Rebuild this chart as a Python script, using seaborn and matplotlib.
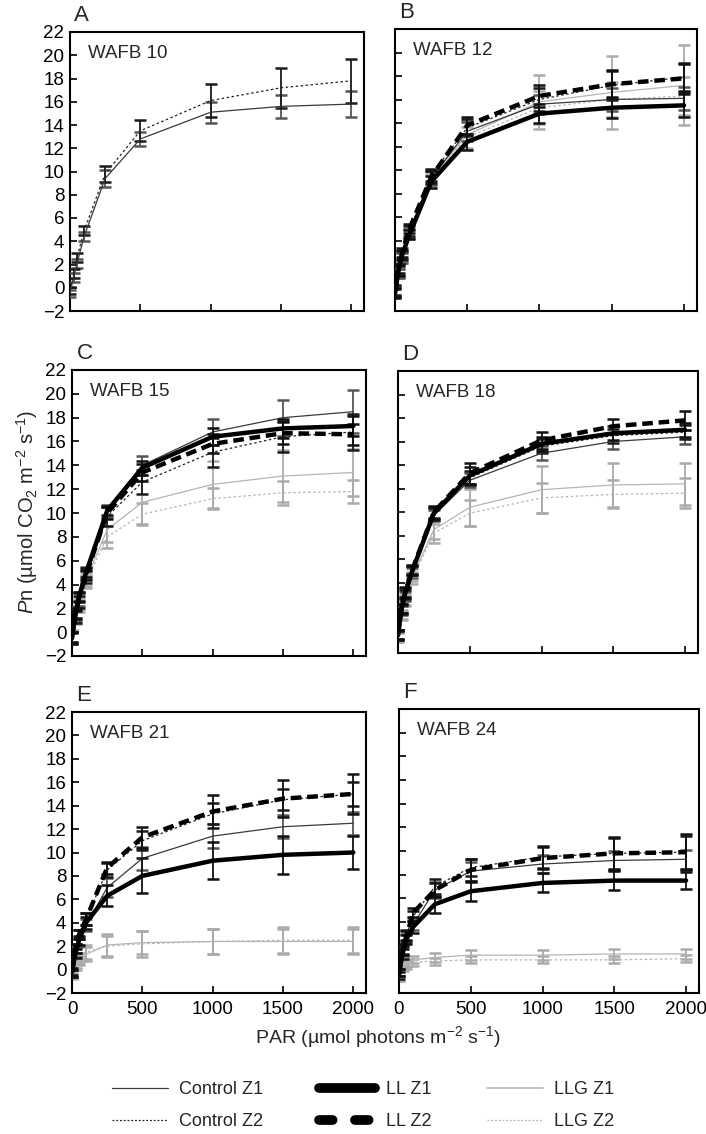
import matplotlib
matplotlib.use("Agg")
import matplotlib.pyplot as plt
from matplotlib.lines import Line2D
import seaborn as sns

# ---------------- data ----------------
PAR = [0, 25, 50, 100, 250, 500, 1000, 1500, 2000]
PANEL_LETTERS = ["A", "B", "C", "D", "E", "F"]
PANEL_TITLES = ["WAFB 10", "WAFB 12", "WAFB 15", "WAFB 18", "WAFB 21", "WAFB 24"]
SERIES = ["Control Z1", "Control Z2", "LL Z1", "LL Z2", "LLG Z1", "LLG Z2"]
X_TICKS = [0, 500, 1000, 1500, 2000]
Y_TICKS = list(range(-2, 23, 2))

# Panel A (WAFB 10)
a_ctrl_z1 = [-0.5, 0.9, 2.1, 4.4, 9.4, 12.8, 15.1, 15.6, 15.8]
a_ctrl_z1_se = [0.3, 0.4, 0.4, 0.4, 0.7, 0.6, 0.9, 1.0, 1.1]
a_ctrl_z2 = [-0.2, 1.2, 2.6, 4.9, 9.8, 13.5, 16.1, 17.2, 17.8]
a_ctrl_z2_se = [0.3, 0.4, 0.4, 0.4, 0.7, 0.9, 1.4, 1.7, 1.9]

# Panel B (WAFB 12)
b_ctrl_z1 = [-0.3, 1.2, 2.5, 4.6, 9.3, 13.3, 15.6, 16.0, 16.1]
b_ctrl_z1_se = [0.4, 0.4, 0.4, 0.4, 0.6, 0.8, 0.8, 1.0, 1.0]
b_ctrl_z2 = [-0.2, 1.4, 2.7, 4.8, 9.6, 13.6, 16.0, 17.2, 17.9]
b_ctrl_z2_se = [0.4, 0.4, 0.4, 0.4, 0.5, 0.7, 1.0, 1.2, 1.2]
b_ll_z1 = [-0.5, 1.5, 2.8, 4.5, 9.0, 12.4, 14.8, 15.3, 15.5]
b_ll_z1_se = [0.4, 0.4, 0.4, 0.4, 0.5, 0.7, 0.8, 0.9, 1.0]
b_ll_z2 = [-0.4, 1.6, 3.0, 5.0, 9.4, 13.8, 16.3, 17.3, 17.8]
b_ll_z2_se = [0.4, 0.4, 0.4, 0.4, 0.5, 0.7, 0.9, 1.2, 1.2]
b_llg_z1 = [-0.4, 1.3, 2.6, 4.6, 9.3, 13.0, 15.8, 16.6, 17.2]
b_llg_z1_se = [0.4, 0.4, 0.4, 0.4, 0.6, 1.2, 2.3, 3.1, 3.4]
b_llg_z2 = [-0.3, 1.2, 2.5, 4.5, 9.1, 12.8, 15.3, 16.0, 16.3]
b_llg_z2_se = [0.4, 0.4, 0.4, 0.4, 0.6, 0.9, 1.4, 1.5, 1.6]

# Panel C (WAFB 15)
c_ctrl_z1 = [-0.5, 1.5, 2.8, 5.0, 10.2, 14.0, 16.8, 18.0, 18.5]
c_ctrl_z1_se = [0.5, 0.6, 0.6, 0.5, 0.5, 0.8, 1.1, 1.5, 1.8]
c_ctrl_z2 = [-0.5, 1.3, 2.5, 4.6, 9.7, 12.6, 15.1, 16.4, 16.8]
c_ctrl_z2_se = [0.5, 0.5, 0.5, 0.5, 0.8, 1.0, 1.2, 1.3, 1.5]
c_ll_z1 = [-0.5, 1.6, 3.0, 5.0, 10.2, 13.8, 16.4, 17.1, 17.3]
c_ll_z1_se = [0.4, 0.4, 0.4, 0.4, 0.4, 0.6, 0.7, 0.8, 0.8]
c_ll_z2 = [-0.4, 1.5, 2.9, 4.8, 10.0, 13.4, 15.8, 16.7, 16.6]
c_ll_z2_se = [0.4, 0.4, 0.4, 0.4, 0.5, 0.7, 0.8, 0.9, 0.9]
c_llg_z1 = [-0.3, 1.3, 2.4, 4.4, 8.6, 10.9, 12.4, 13.1, 13.4]
c_llg_z1_se = [0.5, 0.5, 0.5, 0.5, 1.0, 1.8, 2.0, 2.2, 2.0]
c_llg_z2 = [-0.3, 1.2, 2.2, 4.2, 8.0, 9.9, 11.2, 11.7, 11.8]
c_llg_z2_se = [0.5, 0.5, 0.5, 0.5, 0.9, 0.9, 0.9, 1.0, 1.0]

# Panel D (WAFB 18)
d_ctrl_z1 = [-0.5, 1.6, 2.8, 4.8, 9.7, 12.7, 15.0, 16.0, 16.4]
d_ctrl_z1_se = [0.4, 0.4, 0.4, 0.4, 0.5, 0.6, 0.6, 0.6, 0.6]
d_ctrl_z2 = [-0.4, 1.7, 3.0, 5.0, 9.8, 12.9, 15.6, 16.5, 16.8]
d_ctrl_z2_se = [0.4, 0.4, 0.4, 0.4, 0.5, 0.6, 0.6, 0.6, 0.6]
d_ll_z1 = [-0.5, 1.8, 3.1, 5.0, 9.9, 13.1, 15.8, 16.7, 17.0]
d_ll_z1_se = [0.4, 0.4, 0.4, 0.4, 0.5, 0.7, 0.6, 0.6, 0.6]
d_ll_z2 = [-0.4, 1.8, 3.2, 5.1, 10.0, 13.3, 16.1, 17.3, 17.8]
d_ll_z2_se = [0.4, 0.4, 0.4, 0.4, 0.5, 0.9, 0.7, 0.6, 0.8]
d_llg_z1 = [-0.7, 1.3, 2.5, 4.5, 8.5, 10.4, 11.9, 12.3, 12.4]
d_llg_z1_se = [0.4, 0.4, 0.4, 0.4, 0.8, 1.6, 2.0, 1.9, 1.8]
d_llg_z2 = [-0.7, 1.2, 2.4, 4.3, 8.2, 9.9, 11.2, 11.5, 11.6]
d_llg_z2_se = [0.4, 0.4, 0.4, 0.4, 0.8, 1.1, 1.3, 1.2, 1.3]

# Panel E (WAFB 21)
e_ctrl_z1 = [-0.3, 1.5, 2.4, 3.8, 7.0, 9.5, 11.4, 12.2, 12.5]
e_ctrl_z1_se = [0.3, 0.4, 0.4, 0.5, 0.8, 1.0, 1.0, 1.0, 1.0]
e_ctrl_z2 = [-0.3, 1.8, 3.0, 4.3, 8.5, 11.0, 13.3, 14.5, 15.0]
e_ctrl_z2_se = [0.3, 0.4, 0.4, 0.5, 0.6, 0.8, 0.9, 0.9, 1.0]
e_ll_z1 = [-0.2, 1.4, 2.5, 4.0, 6.3, 8.0, 9.3, 9.8, 10.0]
e_ll_z1_se = [0.3, 0.4, 0.4, 0.5, 0.9, 1.5, 1.6, 1.6, 1.4]
e_ll_z2 = [-0.3, 1.8, 3.0, 4.3, 8.7, 11.3, 13.5, 14.6, 15.0]
e_ll_z2_se = [0.3, 0.4, 0.4, 0.5, 0.5, 0.9, 1.4, 1.6, 1.7]
e_llg_z1 = [-0.6, 0.3, 0.8, 1.3, 2.1, 2.3, 2.4, 2.4, 2.4]
e_llg_z1_se = [0.2, 0.3, 0.4, 0.6, 0.9, 1.0, 1.1, 1.1, 1.1]
e_llg_z2 = [-0.5, 0.4, 1.0, 1.5, 2.0, 2.2, 2.4, 2.5, 2.5]
e_llg_z2_se = [0.2, 0.3, 0.4, 0.6, 0.9, 1.1, 1.1, 1.1, 1.1]

# Panel F (WAFB 24)
f_ctrl_z1 = [-0.3, 1.5, 2.6, 3.8, 6.7, 8.3, 8.9, 9.2, 9.3]
f_ctrl_z1_se = [0.3, 0.4, 0.4, 0.5, 0.7, 0.8, 0.8, 0.8, 0.8]
f_ctrl_z2 = [-0.3, 1.7, 2.9, 4.5, 7.0, 8.6, 9.5, 9.8, 9.9]
f_ctrl_z2_se = [0.3, 0.4, 0.4, 0.4, 0.6, 0.7, 0.9, 1.4, 1.4]
f_ll_z1 = [-0.3, 1.3, 2.5, 3.6, 5.5, 6.6, 7.3, 7.5, 7.5]
f_ll_z1_se = [0.3, 0.4, 0.4, 0.5, 0.7, 0.8, 0.8, 0.8, 0.7]
f_ll_z2 = [-0.5, 1.6, 2.8, 4.8, 6.7, 8.4, 9.4, 9.8, 9.9]
f_ll_z2_se = [0.3, 0.4, 0.4, 0.4, 0.6, 0.9, 0.9, 1.3, 1.5]
f_llg_z1 = [-0.8, 0.2, 0.5, 0.8, 1.0, 1.2, 1.2, 1.3, 1.3]
f_llg_z1_se = [0.2, 0.2, 0.3, 0.3, 0.4, 0.4, 0.4, 0.4, 0.4]
f_llg_z2 = [-0.8, 0.1, 0.3, 0.6, 0.7, 0.8, 0.8, 0.8, 0.9]
f_llg_z2_se = [0.2, 0.2, 0.3, 0.3, 0.3, 0.3, 0.3, 0.3, 0.3]

panels = [
    {"Control Z1": (a_ctrl_z1, a_ctrl_z1_se), "Control Z2": (a_ctrl_z2, a_ctrl_z2_se)},
    {"Control Z1": (b_ctrl_z1, b_ctrl_z1_se), "Control Z2": (b_ctrl_z2, b_ctrl_z2_se),
     "LL Z1": (b_ll_z1, b_ll_z1_se), "LL Z2": (b_ll_z2, b_ll_z2_se),
     "LLG Z1": (b_llg_z1, b_llg_z1_se), "LLG Z2": (b_llg_z2, b_llg_z2_se)},
    {"Control Z1": (c_ctrl_z1, c_ctrl_z1_se), "Control Z2": (c_ctrl_z2, c_ctrl_z2_se),
     "LL Z1": (c_ll_z1, c_ll_z1_se), "LL Z2": (c_ll_z2, c_ll_z2_se),
     "LLG Z1": (c_llg_z1, c_llg_z1_se), "LLG Z2": (c_llg_z2, c_llg_z2_se)},
    {"Control Z1": (d_ctrl_z1, d_ctrl_z1_se), "Control Z2": (d_ctrl_z2, d_ctrl_z2_se),
     "LL Z1": (d_ll_z1, d_ll_z1_se), "LL Z2": (d_ll_z2, d_ll_z2_se),
     "LLG Z1": (d_llg_z1, d_llg_z1_se), "LLG Z2": (d_llg_z2, d_llg_z2_se)},
    {"Control Z1": (e_ctrl_z1, e_ctrl_z1_se), "Control Z2": (e_ctrl_z2, e_ctrl_z2_se),
     "LL Z1": (e_ll_z1, e_ll_z1_se), "LL Z2": (e_ll_z2, e_ll_z2_se),
     "LLG Z1": (e_llg_z1, e_llg_z1_se), "LLG Z2": (e_llg_z2, e_llg_z2_se)},
    {"Control Z1": (f_ctrl_z1, f_ctrl_z1_se), "Control Z2": (f_ctrl_z2, f_ctrl_z2_se),
     "LL Z1": (f_ll_z1, f_ll_z1_se), "LL Z2": (f_ll_z2, f_ll_z2_se),
     "LLG Z1": (f_llg_z1, f_llg_z1_se), "LLG Z2": (f_llg_z2, f_llg_z2_se)},
]

# ---------------- styles ----------------
STYLE = {
    "LLG Z1":     dict(color="#b5b5b5", lw=0.9, ls="-", ecol="#aaaaaa", z=2),
    "LLG Z2":     dict(color="#b5b5b5", lw=0.9, ls=(0, (2, 2)), ecol="#aaaaaa", z=2),
    "Control Z1": dict(color="#3a3a3a", lw=0.9, ls="-", ecol="#555555", z=3),
    "Control Z2": dict(color="#222222", lw=0.9, ls=(0, (2, 2)), ecol="#1a1a1a", z=3),
    "LL Z1":      dict(color="#000000", lw=3.2, ls="-", ecol="#111111", z=4),
    "LL Z2":      dict(color="#000000", lw=3.2, ls=(0, (2.4, 1.3)), ecol="#111111", z=4),
}
DRAW_ORDER = ["LLG Z1", "LLG Z2", "Control Z1", "Control Z2", "LL Z1", "LL Z2"]

sns.set_theme(style="ticks")
plt.rcParams["font.family"] = ["Liberation Sans", "DejaVu Sans"]
plt.rcParams["mathtext.fontset"] = "custom"
plt.rcParams["mathtext.rm"] = "Liberation Sans"
plt.rcParams["mathtext.it"] = "Liberation Sans:italic"
plt.rcParams["mathtext.default"] = "regular"

W, H = 706, 1134
fig = plt.figure(figsize=(W / 100, H / 100), dpi=100)

# axes boxes in pixels: left, top, right, bottom
BOXES = [
    (70, 32, 364, 311),
    (395, 29, 697, 311),
    (72, 370, 366, 656),
    (398, 371, 698, 653),
    (72, 712, 366, 993),
    (399, 709, 699, 993),
]

for i, (box, data) in enumerate(zip(BOXES, panels)):
    l, t, r, b = box
    ax = fig.add_axes([l / W, 1 - b / H, (r - l) / W, (b - t) / H])
    for name in DRAW_ORDER:
        if name not in data:
            continue
        mean, se = data[name]
        st = STYLE[name]
        ax.errorbar(PAR, mean, yerr=se, fmt="none", ecolor=st["ecol"],
                    elinewidth=1.3, capsize=4.3, capthick=1.8, zorder=st["z"])
        sns.lineplot(x=PAR, y=mean, ax=ax, color=st["color"], lw=st["lw"],
                     linestyle=st["ls"], errorbar=None, zorder=st["z"] + 0.5)
    ax.set_xlim(0, 2090)
    ax.set_ylim(-2, 22)
    ax.set_xticks(X_TICKS)
    ax.set_yticks(Y_TICKS)
    ax.tick_params(direction="in", length=5, width=1.2, labelsize=13.5,
                   colors="black")
    ax.tick_params(axis="x", pad=6)
    ax.tick_params(axis="y", pad=4)
    if i % 2 == 1:
        ax.tick_params(labelleft=False)
    if i < 4:
        ax.tick_params(labelbottom=False)
    for sp in ax.spines.values():
        sp.set_linewidth(1.5)
        sp.set_color("black")
    ax.set_xlabel("")
    ax.set_ylabel("")
    ax.text(0.06, 0.955, PANEL_TITLES[i], transform=ax.transAxes,
            ha="left", va="top", fontsize=13.5)
    ax.text(0.015, 1.04, PANEL_LETTERS[i], transform=ax.transAxes,
            ha="left", va="baseline", fontsize=16)

fig.text(0.038, 1 - 512 / H,
         r"$\mathit{P}$n (µmol CO$_2$ m$^{-2}$ s$^{-1}$)",
         rotation=90, ha="center", va="center", fontsize=14.5)
fig.text(378 / W, 1 - 1037 / H,
         r"PAR (µmol photons m$^{-2}$ s$^{-1}$)",
         ha="center", va="center", fontsize=14)

# legend
handles = [
    Line2D([], [], color="#3a3a3a", lw=0.9, ls="-"),
    Line2D([], [], color="#222222", lw=0.9, ls=(0, (1.5, 1.5))),
    Line2D([], [], color="black", lw=7, ls="-", solid_capstyle="round"),
    Line2D([], [], color="black", lw=7, ls=(0, (1.4, 2.3)), dash_capstyle="round"),
    Line2D([], [], color="#b5b5b5", lw=1.2, ls="-"),
    Line2D([], [], color="#b5b5b5", lw=0.9, ls=(0, (1.5, 1.5))),
]
fig.legend(handles, SERIES, ncol=3, loc="upper left",
           bbox_to_anchor=(112 / W, 1 - 1081 / H), frameon=False,
           fontsize=13, handlelength=3.1, handletextpad=0.6,
           columnspacing=3.1, labelspacing=0.85, borderpad=0, borderaxespad=0)

fig.savefig("out.png", dpi=100)
